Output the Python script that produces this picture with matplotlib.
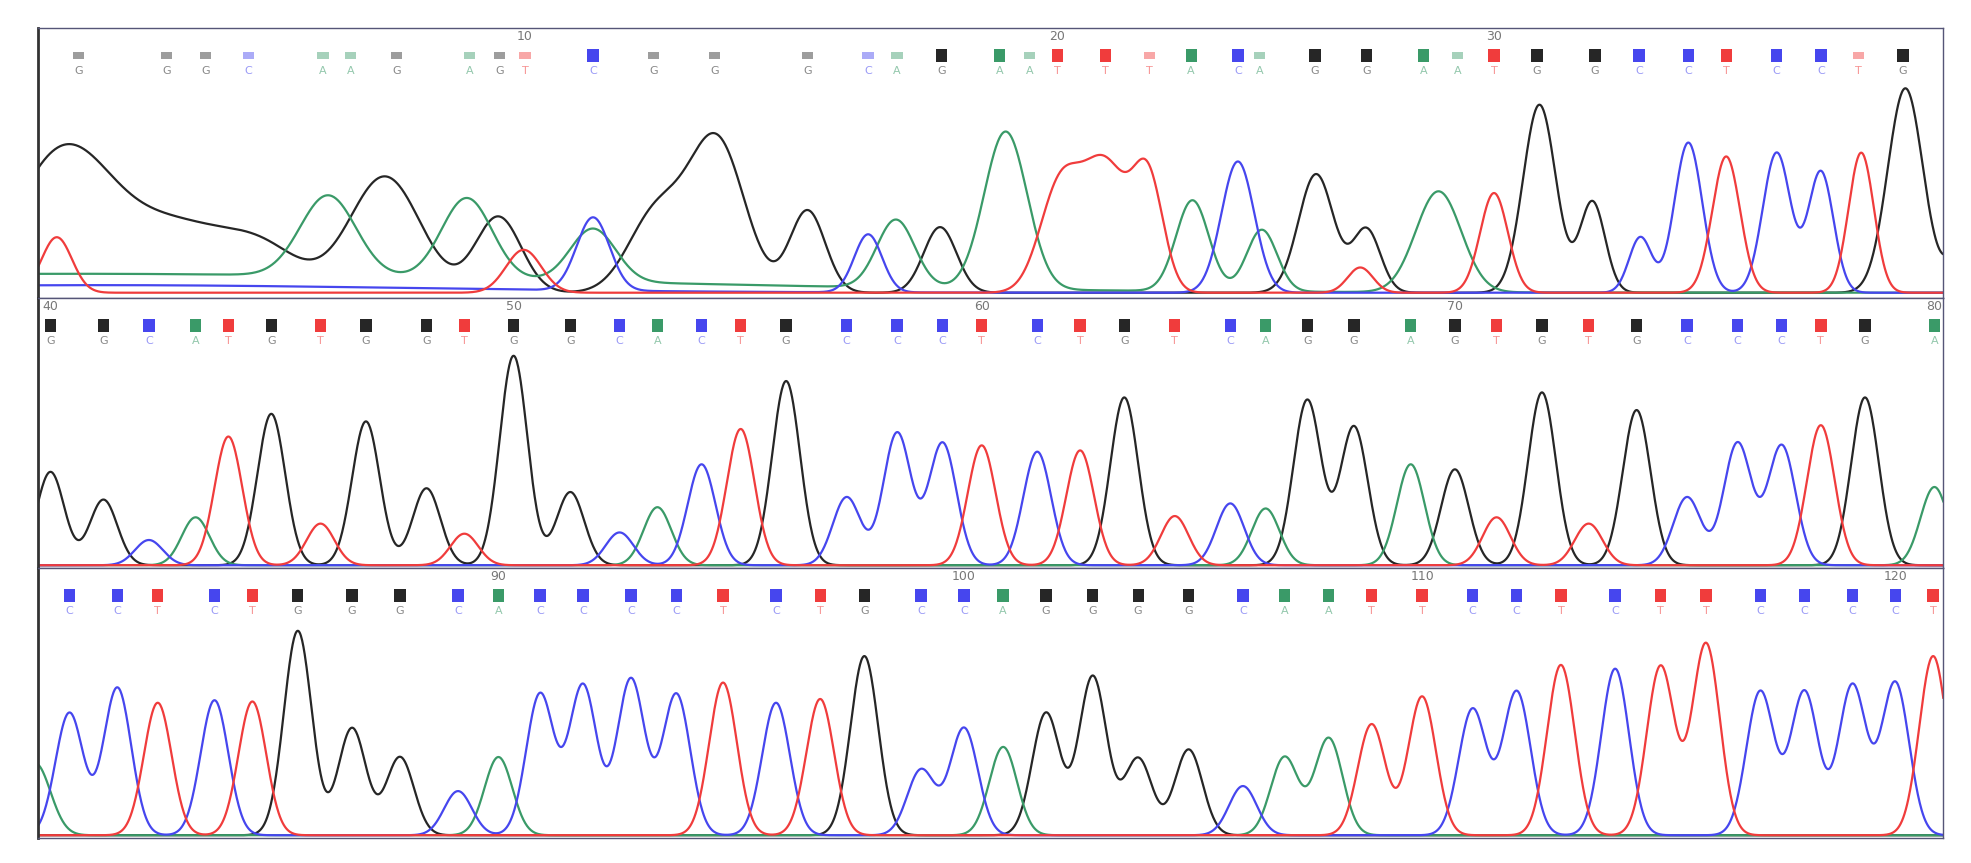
import numpy as np
import matplotlib.pyplot as plt

W, H = 1562.0, 684.0  # reference layout units
colors = {'G': '#262626', 'A': '#3a9a68', 'C': '#4646ee', 'T': '#f03c3c'}

# ---- base calls: (start index, sequence, x positions, strong/faint) ----
seq1 = "GGGCAAGAGTCGGGCAGAATTTACAGGAATGGCCTCCTG"
x1 = [62, 132, 163, 197, 256, 278, 314, 372, 396, 416, 470, 518, 566, 640, 688, 711, 746,
      792, 816, 838, 876, 911, 944, 981, 998, 1042, 1083, 1128, 1155, 1184, 1218, 1264,
      1299, 1338, 1368, 1408, 1443, 1473, 1508]
q1 = [0, 0, 0, 0, 0, 0, 0, 0, 0, 0, 1, 0, 0, 0, 0, 0, 1, 1, 0, 1, 1, 0, 1, 1, 0, 1, 1, 1, 0, 1,
      1, 1, 1, 1, 1, 1, 1, 0, 1]
seq2 = "GGCATGTGGTGGCACTGCCCTCTGTCAGGAGTGTGCCCTGA"
x2 = [40, 82, 118, 155, 181, 215, 254, 290, 338, 368, 407, 452, 491, 521, 556, 587, 623, 671,
      711, 747, 778, 822, 856, 891, 931, 975, 1003, 1036, 1073, 1118, 1153, 1186, 1222, 1259,
      1297, 1337, 1377, 1412, 1443, 1478, 1533]
seq3 = "CCTCTGGGCACCCCTCTGCCAGGGGCAATTCCTCTTCCCCT"
x3 = [55, 93, 125, 170, 200, 236, 279, 317, 363, 395, 428, 462, 500, 536, 573, 615, 650, 685,
      730, 764, 795, 829, 866, 902, 942, 985, 1018, 1053, 1087, 1127, 1167, 1202, 1237, 1280,
      1316, 1352, 1395, 1430, 1468, 1502, 1532]

# ---- trace peaks for panel 1: channel -> list of (x, peak top pixel y, sigma) ----
peaks1 = {
    'G': [(50, 122, 38), (140, 180, 45), (210, 205, 30), (305, 140, 28), (395, 172, 18),
          (520, 170, 22), (568, 112, 22), (640, 167, 14), (745, 180, 13), (1043, 138, 14),
          (1083, 182, 11), (1220, 83, 13), (1262, 160, 10), (1510, 70, 14), (1560, 175, 12)],
    'A': [(60, 217, 400), (260, 168, 22), (370, 168, 20), (470, 190, 18), (710, 178, 15),
          (797, 107, 17), (945, 160, 13), (1000, 183, 12), (1140, 152, 18)],
    'C': [(80, 226, 250), (470, 174, 13), (688, 186, 11), (981, 128, 13), (1300, 188, 9),
          (1338, 113, 11), (1408, 121, 11), (1443, 136, 10)],
    'T': [(45, 188, 12), (415, 198, 14), (840, 150, 16), (876, 132, 18), (910, 146, 12),
          (1078, 212, 10), (1184, 153, 11), (1368, 124, 11), (1475, 121, 10)],
}
tops2 = [374, 396, 428, 410, 346, 328, 415, 334, 387, 423, 282, 390, 422, 402, 368, 340, 302,
         394, 343, 351, 353, 358, 357, 315, 409, 399, 403, 317, 338, 368, 372, 410, 311, 415,
         325, 394, 351, 353, 337, 315, 386]
tops3 = [565, 545, 557, 555, 556, 500, 577, 600, 627, 600, 550, 543, 538, 550, 541, 557, 554,
         520, 610, 577, 592, 565, 536, 601, 594, 623, 600, 585, 574, 552, 562, 548, 527, 530,
         528, 510, 548, 548, 543, 541, 520]

panels = [
    dict(top=22, bot=236, base=232, seq=seq1, xs=x1, q=q1, start=1),
    dict(top=236, bot=450, base=448, seq=seq2, xs=x2, q=[1] * len(seq2), start=40,
         tops=tops2, sig=11),
    dict(top=450, bot=664, base=662, seq=seq3, xs=x3, q=[1] * len(seq3), start=81,
         tops=tops3, sig=11),
]

fig = plt.figure(figsize=(19.71, 8.63), dpi=100)
xx = np.linspace(30, 1540, 3000)
for p in panels:
    ax = fig.add_axes([30 / W, 1 - p['bot'] / H, 1510 / W, (p['bot'] - p['top']) / H])
    ax.set_xlim(30, 1540)
    ax.set_ylim(p['bot'], p['top'])
    ax.set_xticks([])
    ax.set_yticks([])
    for s in ax.spines.values():
        s.set_color('#555577')
        s.set_linewidth(1.0)
    ax.spines['left'].set_linewidth(2.0)
    ax.spines['left'].set_color('#333333')

    if 'tops' in p:
        pk = {c: [] for c in 'GACT'}
        for b, x, t in zip(p['seq'], p['xs'], p['tops']):
            pk[b].append((x, t, p['sig']))
        if p['start'] == 81:
            pk['A'].append((28, 605, 12))
    else:
        pk = peaks1
    for c in 'GACT':
        y = np.zeros_like(xx)
        for x0, top, sg in pk[c]:
            y = y + (p['base'] - top) * np.exp(-0.5 * ((xx - x0) / sg) ** 2)
        ax.plot(xx, p['base'] - y, color=colors[c], lw=1.6)

    my = p['top'] + 22
    for i, (b, x, q) in enumerate(zip(p['seq'], p['xs'], p['q'])):
        n = p['start'] + i
        alpha = 1.0 if q else 0.45
        hgt = 10 if q else 5
        ax.add_patch(plt.Rectangle((x - 4.5, my - hgt / 2), 9, hgt, color=colors[b],
                                   alpha=alpha, lw=0))
        ax.text(x, my + 12, b, color=colors[b], alpha=0.55, fontsize=8,
                ha='center', va='center')
        if n % 10 == 0:
            ax.text(x, p['top'] + 7, str(n), color='#777777', fontsize=9,
                    ha='center', va='center')

fig.savefig('out.png', dpi=100, facecolor='white')
